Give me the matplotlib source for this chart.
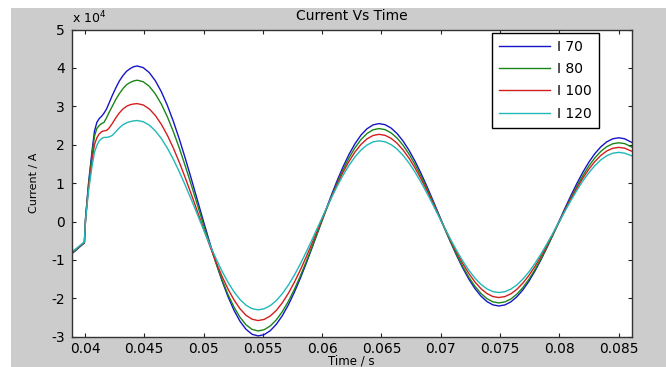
import matplotlib
matplotlib.use("Agg")
import matplotlib.pyplot as plt
from matplotlib.patches import Rectangle

# time axis (s), shared by all four series
time_s = [
    0.0388, 0.0392, 0.0396, 0.03995, 0.04005, 0.0403, 0.0406, 0.0408, 0.0410, 0.0412,
    0.0414, 0.0416, 0.0418, 0.0420, 0.0423, 0.0426, 0.0429, 0.0432, 0.0435, 0.0438, 0.0441,
    0.04440, 0.04491, 0.04542, 0.04593, 0.04644, 0.04695, 0.04746, 0.04797, 0.04848, 0.04899,
    0.04950, 0.05001, 0.05052, 0.05103, 0.05154, 0.05205, 0.05256, 0.05307, 0.05358, 0.05409, 0.05460,
    0.05511, 0.05562, 0.05613, 0.05664, 0.05715, 0.05766, 0.05817, 0.05868, 0.05919, 0.05970,
    0.06021, 0.06072, 0.06123, 0.06174, 0.06225, 0.06276, 0.06327, 0.06378, 0.06429, 0.06480,
    0.065305, 0.06581, 0.066315, 0.06682, 0.067325, 0.06783, 0.068335, 0.06884, 0.069345, 0.06985,
    0.070355, 0.07086, 0.071365, 0.07187, 0.072375, 0.07288, 0.073385, 0.07389, 0.074395, 0.0749,
    0.075405, 0.07591, 0.076415, 0.07692, 0.077425, 0.07793, 0.078435, 0.07894, 0.079445, 0.07995,
    0.080455, 0.08096, 0.081465, 0.08197, 0.082475, 0.08298, 0.083485, 0.08399, 0.084495, 0.0850,
    0.0855, 0.0861,
]

# current, in units of 1e4 A
i70 = [
    -0.86, -0.76, -0.65, -0.56, 0.10, 1.00, 1.85, 2.35, 2.58, 2.68,
    2.74, 2.82, 2.92, 3.06, 3.28, 3.48, 3.66, 3.80, 3.91, 3.98, 4.03,
    4.050, 4.007, 3.878, 3.667, 3.379, 3.020, 2.601, 2.131, 1.621, 1.085,
    0.535, -0.015, -0.551, -1.061, -1.531, -1.950, -2.309, -2.597, -2.808, -2.937, -2.980,
    -2.946, -2.845, -2.679, -2.452, -2.170, -1.840, -1.470, -1.069, -0.647, -0.215,
    0.217, 0.639, 1.040, 1.410, 1.740, 2.022, 2.249, 2.415, 2.516, 2.550,
    2.521, 2.434, 2.291, 2.096, 1.854, 1.571, 1.253, 0.909, 0.547, 0.175,
    -0.197, -0.559, -0.903, -1.221, -1.504, -1.746, -1.941, -2.084, -2.171, -2.200,
    -2.173, -2.093, -1.961, -1.782, -1.559, -1.297, -1.004, -0.687, -0.353, -0.010,
    0.333, 0.667, 0.984, 1.277, 1.539, 1.762, 1.941, 2.073, 2.153, 2.180,
    2.155, 2.06,
]
i80 = [
    -0.84, -0.75, -0.64, -0.55, 0.08, 0.95, 1.75, 2.22, 2.42, 2.50,
    2.55, 2.58, 2.69, 2.82, 3.00, 3.18, 3.33, 3.46, 3.56, 3.62, 3.66,
    3.680, 3.640, 3.521, 3.324, 3.056, 2.724, 2.334, 1.897, 1.424, 0.926,
    0.415, -0.096, -0.594, -1.067, -1.504, -1.894, -2.226, -2.494, -2.690, -2.810, -2.850,
    -2.818, -2.721, -2.563, -2.347, -2.078, -1.764, -1.411, -1.029, -0.627, -0.215,
    0.197, 0.599, 0.981, 1.334, 1.648, 1.917, 2.133, 2.291, 2.388, 2.420,
    2.392, 2.309, 2.173, 1.986, 1.755, 1.484, 1.181, 0.851, 0.505, 0.150,
    -0.205, -0.551, -0.881, -1.184, -1.455, -1.686, -1.873, -2.009, -2.092, -2.120,
    -2.094, -2.018, -1.893, -1.722, -1.509, -1.261, -0.982, -0.679, -0.361, -0.035,
    0.291, 0.609, 0.912, 1.191, 1.439, 1.652, 1.823, 1.948, 2.024, 2.050,
    2.03, 1.94,
]
i100 = [
    -0.82, -0.73, -0.63, -0.54, 0.06, 0.88, 1.60, 2.00, 2.18, 2.28,
    2.34, 2.36, 2.37, 2.42, 2.55, 2.70, 2.83, 2.93, 3.00, 3.04, 3.06,
    3.070, 3.035, 2.932, 2.762, 2.530, 2.243, 1.906, 1.528, 1.118, 0.687,
    0.245, -0.197, -0.628, -1.038, -1.416, -1.753, -2.040, -2.272, -2.442, -2.545, -2.580,
    -2.550, -2.461, -2.316, -2.117, -1.870, -1.580, -1.256, -0.904, -0.534, -0.155,
    0.224, 0.594, 0.946, 1.270, 1.560, 1.807, 2.006, 2.151, 2.240, 2.270,
    2.244, 2.166, 2.038, 1.864, 1.648, 1.394, 1.110, 0.802, 0.477, 0.145,
    -0.187, -0.512, -0.820, -1.104, -1.358, -1.574, -1.748, -1.876, -1.954, -1.980,
    -1.956, -1.884, -1.767, -1.607, -1.407, -1.174, -0.913, -0.629, -0.331, -0.025,
    0.281, 0.579, 0.863, 1.124, 1.357, 1.557, 1.717, 1.835, 1.906, 1.930,
    1.91, 1.83,
]
i120 = [
    -0.80, -0.72, -0.62, -0.53, 0.05, 0.80, 1.45, 1.80, 1.98, 2.10,
    2.16, 2.19, 2.19, 2.20, 2.24, 2.34, 2.44, 2.52, 2.57, 2.60, 2.62,
    2.630, 2.600, 2.510, 2.361, 2.159, 1.908, 1.614, 1.284, 0.927, 0.551,
    0.165, -0.221, -0.597, -0.954, -1.284, -1.578, -1.829, -2.031, -2.180, -2.270, -2.300,
    -2.273, -2.192, -2.060, -1.880, -1.656, -1.393, -1.099, -0.780, -0.444, -0.100,
    0.244, 0.580, 0.899, 1.193, 1.456, 1.680, 1.860, 1.992, 2.073, 2.100,
    2.076, 2.003, 1.885, 1.723, 1.522, 1.286, 1.022, 0.735, 0.434, 0.125,
    -0.184, -0.485, -0.772, -1.036, -1.272, -1.473, -1.635, -1.753, -1.826, -1.850,
    -1.828, -1.761, -1.651, -1.501, -1.316, -1.098, -0.854, -0.589, -0.310, -0.025,
    0.260, 0.539, 0.804, 1.051, 1.266, 1.451, 1.601, 1.711, 1.778, 1.800,
    1.78, 1.71,
]

series_labels = ["I 70", "I 80", "I 100", "I 120"]
series_colors = ["#1515c8", "#1a861a", "#d41e1e", "#20b8b8"]

x_ticks = [0.04, 0.045, 0.05, 0.055, 0.06, 0.065, 0.07, 0.075, 0.08, 0.085]
x_tick_labels = ["0.04", "0.045", "0.05", "0.055", "0.06", "0.065", "0.07", "0.075", "0.08", "0.085"]
y_ticks = [-3, -2, -1, 0, 1, 2, 3, 4, 5]

W, H = 666, 367


def make_figure():
    plt.rcParams["axes.unicode_minus"] = False
    fig = plt.figure(figsize=(W / 100, H / 100), dpi=100, facecolor="white")
    # matlab-style grey figure area (leaves a thin white strip top/left)
    fig.patches.append(Rectangle((11 / W, 0), 1, (H - 8) / H, transform=fig.transFigure,
                                 facecolor="#cccccc", edgecolor="none", zorder=-10))

    ax = fig.add_axes([71.7 / W, (H - 336.7) / H, 560 / W, 307.2 / H])
    ax.set_facecolor("white")

    for vals, lab, col in zip([i70, i80, i100, i120], series_labels, series_colors):
        ax.plot(time_s, vals, color=col, lw=1.0, label=lab)

    ax.set_xlim(0.03888, 0.0861)
    ax.set_ylim(-3, 5)
    ax.set_xticks(x_ticks)
    ax.set_xticklabels(x_tick_labels)
    ax.set_yticks(y_ticks)
    ax.set_yticklabels([str(v) for v in y_ticks])

    ax.tick_params(direction="in", length=3.2, width=0.8, top=True, right=True,
                   labelsize=10, colors="#222222", labelcolor="black")
    ax.tick_params(axis="y", pad=5)
    ax.tick_params(axis="x", pad=3.5)
    for sp in ax.spines.values():
        sp.set_color("#333333")
        sp.set_linewidth(1.0)

    ax.set_title("Current Vs Time", fontsize=10, pad=7)
    ax.set_xlabel("Time / s", fontsize=8.5, labelpad=-0.5)
    ax.set_ylabel("Current / A", fontsize=8, labelpad=9)

    # exponent label the way matlab writes it
    ax.annotate("x 10$^{4}$", xy=(0, 1), xycoords="axes fraction", xytext=(0.5, 2),
                textcoords="offset points", ha="left", va="bottom", fontsize=9)

    ax.legend(loc="upper right", bbox_to_anchor=(599 / W, (H - 32.7) / H),
              bbox_transform=fig.transFigure, fancybox=False, framealpha=1,
              edgecolor="black", borderaxespad=0, fontsize=10, handlelength=3.7,
              handletextpad=0.5, labelspacing=0.6, borderpad=0.5)
    return fig


if __name__ == "__main__":
    fig = make_figure()
    fig.savefig("out.png", dpi=100, facecolor=fig.get_facecolor())
    plt.close(fig)
